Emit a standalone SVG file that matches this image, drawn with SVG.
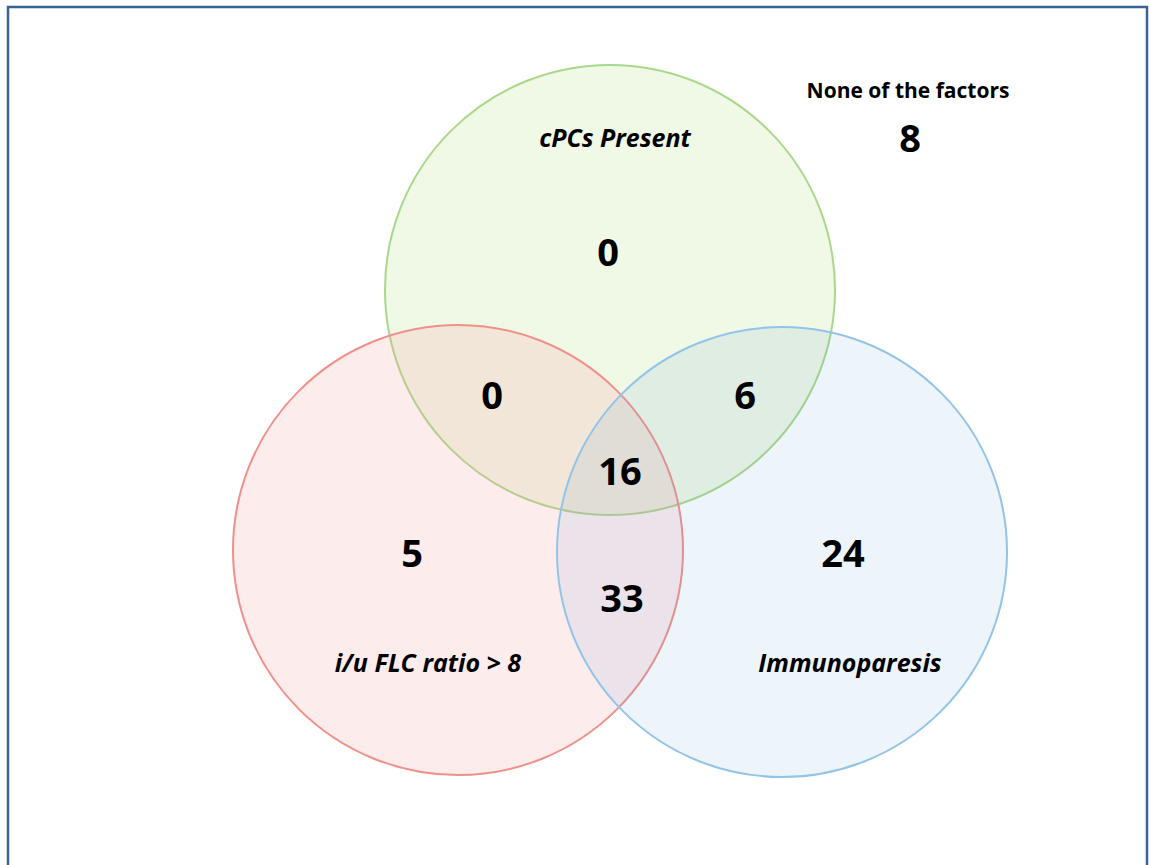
<svg xmlns="http://www.w3.org/2000/svg" width="1149" height="865" viewBox="0 0 1149 865">
<style>
.num{font-family:"Open Sans","Liberation Sans",sans-serif;font-weight:bold;font-size:38px;fill:#000;text-anchor:middle}
.lab{font-family:"Open Sans","Liberation Sans",sans-serif;font-weight:bold;font-style:italic;font-size:25px;fill:#000;text-anchor:middle}
.title{font-family:"Open Sans","Liberation Sans",sans-serif;font-weight:bold;font-size:21px;fill:#000;text-anchor:middle}
.c{stroke-width:2}
</style>
<rect x="0" y="0" width="1149" height="865" fill="#fff"/>
<path d="M8 865 V7 H1147 V865" fill="none" stroke="#3A6496" stroke-width="2.5"/>
<g id="cpcs">
<circle class="c" cx="610" cy="290" r="225" fill="#92D050" fill-opacity="0.14" stroke="#A9D88A"/>
</g>
<g id="flc">
<circle class="c" cx="458" cy="550" r="225" fill="#F4A0A0" fill-opacity="0.2" stroke="#F0908A"/>
</g>
<g id="immuno">
<circle class="c" cx="782" cy="552" r="225" fill="#5B9BD5" fill-opacity="0.11" stroke="#93C4E8"/>
</g>
<g id="labels">
<text class="lab" x="615" y="147">cPCs Present</text>
<text class="lab" x="428" y="672">i/u FLC ratio &gt; 8</text>
<text class="lab" x="850" y="672">Immunoparesis</text>
<text class="title" x="908" y="98">None of the factors</text>
<text class="num" x="910" y="152">8</text>
<text class="num" x="608" y="266">0</text>
<text class="num" x="492" y="409">0</text>
<text class="num" x="745" y="409">6</text>
<text class="num" x="620" y="485">16</text>
<text class="num" x="412" y="567">5</text>
<text class="num" x="622" y="612">33</text>
<text class="num" x="843" y="567">24</text>
</g>
<g id="connectors"/>
</svg>
